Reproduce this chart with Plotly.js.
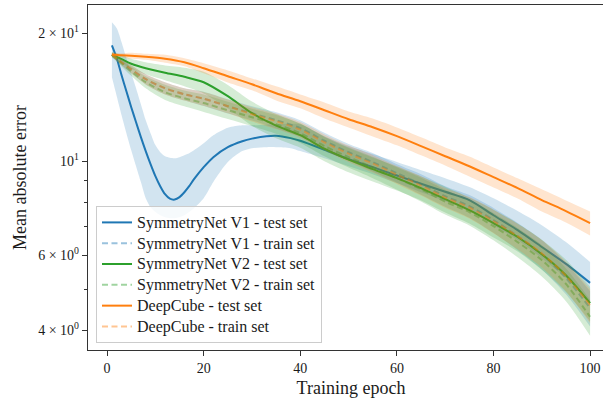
<!DOCTYPE html>
<html>
<head>
<meta charset="utf-8">
<script src="https://cdn.plot.ly/plotly-3.0.1.min.js"></script>
<style>
  html, body { margin: 0; padding: 0; overflow: hidden; background: #ffffff; }
  #chart { width: 614px; height: 400px; }
</style>
</head>
<body>
<div id="chart"></div>
<script>
// Training epochs at which the curves are sampled
const epochsV1Test = [1,2,3,4,5,6,7,8,9,10,11,12,13,14,15,16,17,18,20,22,25,28,30,33,35,38,40,45,50,55,60,65,70,75,80,85,90,95,100];
const epochs = [1,3,5,8,12,16,20,25,30,35,40,45,50,55,60,65,70,75,80,85,90,95,100];

// SymmetryNet V1 - test set (mean with lower / upper envelope)
const v1TestMean  = [18.74,17.47,15.93,14.61,13.40,12.35,11.39,10.56,9.84,9.22,8.73,8.36,8.16,8.12,8.23,8.45,8.73,9.07,9.68,10.22,10.79,11.14,11.30,11.45,11.48,11.33,11.17,10.64,10.11,9.68,9.25,8.85,8.47,8.10,7.46,6.88,6.28,5.73,5.17];
const v1TestUpper = [21.23,20.55,19.05,17.47,16.10,14.85,13.62,12.49,11.64,10.91,10.50,10.27,10.19,10.16,10.22,10.33,10.44,10.61,11.02,11.51,11.99,12.15,12.15,12.19,12.22,12.25,12.22,11.45,10.85,10.39,9.95,9.52,9.12,8.69,8.18,7.63,7.07,6.45,5.79];
const v1TestLower = [15.76,14.22,12.83,11.64,10.61,9.73,8.93,8.18,7.79,7.59,7.46,7.38,7.34,7.34,7.38,7.46,7.59,7.75,8.18,8.93,9.95,10.56,10.73,10.79,10.79,10.73,10.56,10.16,9.73,9.32,8.88,8.45,8.05,7.67,7.07,6.52,5.91,5.31,4.66];

// SymmetryNet V1 - train set
const v1TrainMean = [17.80,17.09,16.46,15.59,14.85,14.37,14.03,13.47,12.97,12.49,11.96,11.17,10.50,9.95,9.37,8.83,8.27,7.84,7.27,6.66,6.04,5.31,4.51];
const v1TrainStd  = [0.19,0.28,0.36,0.43,0.49,0.47,0.54,0.52,0.50,0.55,0.53,0.49,0.47,0.50,0.47,0.49,0.46,0.48,0.49,0.49,0.48,0.45,0.43];

// SymmetryNet V2 - test set
const v2TestMean = [17.80,17.38,16.96,16.55,16.15,15.80,15.34,14.22,12.97,12.12,11.51,10.70,10.08,9.58,9.12,8.64,8.14,7.67,7.15,6.63,6.04,5.39,4.63];
const v2TestStd  = [0.29,0.38,0.46,0.54,0.65,0.80,0.90,0.90,0.85,0.79,0.75,0.70,0.66,0.62,0.59,0.56,0.57,0.54,0.54,0.50,0.49,0.47,0.43];

// SymmetryNet V2 - train set
const v2TrainMean = [17.80,17.01,16.28,15.34,14.53,14.06,13.70,13.18,12.69,12.22,11.64,10.85,10.22,9.68,9.12,8.59,8.03,7.59,7.03,6.45,5.85,5.14,4.30];
const v2TrainStd  = [0.20,0.30,0.40,0.50,0.60,0.60,0.65,0.62,0.60,0.62,0.60,0.58,0.56,0.56,0.55,0.55,0.54,0.53,0.52,0.51,0.50,0.46,0.42];

// DeepCube - test set
const dcTestMean = [17.82,17.75,17.71,17.61,17.42,17.09,16.55,15.84,15.17,14.45,13.84,13.18,12.55,12.02,11.45,10.85,10.27,9.73,9.17,8.64,8.10,7.63,7.15];
const dcTestStd  = [0.19,0.19,0.29,0.29,0.375,0.37,0.45,0.515,0.49,0.55,0.52,0.57,0.545,0.585,0.555,0.53,0.50,0.525,0.495,0.47,0.485,0.455,0.465];

// DeepCube - train set
const dcTrainMean = [17.80,17.09,16.46,15.59,14.85,14.37,14.03,13.47,12.90,12.42,11.86,11.08,10.42,9.87,9.29,8.76,8.21,7.78,7.23,6.66,6.07,5.37,4.58];
const dcTrainStd  = [0.19,0.28,0.36,0.43,0.49,0.47,0.52,0.50,0.50,0.52,0.50,0.48,0.46,0.47,0.45,0.46,0.44,0.45,0.46,0.46,0.45,0.43,0.42];

// Axis tick labels
const xTicks = [0, 20, 40, 60, 80, 100];
const yTickVals = [4, 6, 10, 20];
const yTickText = ['4 × 10<sup>0</sup>', '6 × 10<sup>0</sup>', '10<sup>1</sup>', '2 × 10<sup>1</sup>'];
const yMinorVals = [5, 7, 8, 9];

const FONT = 'Liberation Serif, Times New Roman, serif';
const TEXT = '#1a1a1a';
const BLUE = [31, 119, 180], ORANGE = [255, 127, 14], GREEN = [44, 160, 44];
const rgba = (c, a) => `rgba(${c[0]},${c[1]},${c[2]},${a})`;

const addStd = (m, s, sign) => m.map((v, i) => v + sign * s[i]);

// legend labels are set a little larger than the row pitch of the legend
const legendLabel = (t) => `<span style="font-size:16px">${t}</span>`;

// shaded band between lo and hi, then the line on top
function series(name, x, mean, lo, hi, color, train) {
  const shape = { shape: 'spline', smoothing: 0.8 };
  return [
    { x: x, y: lo, mode: 'lines', line: Object.assign({ width: 0, color: 'rgba(0,0,0,0)' }, shape),
      showlegend: false, hoverinfo: 'skip' },
    { x: x, y: hi, mode: 'lines', line: Object.assign({ width: 0, color: 'rgba(0,0,0,0)' }, shape),
      fill: 'tonexty', fillcolor: rgba(color, 0.2), showlegend: false, hoverinfo: 'skip' },
    { x: x, y: mean, mode: 'lines', name: legendLabel(name),
      line: Object.assign({ width: 2, color: train ? rgba(color, 0.45) : rgba(color, 1),
                            dash: train ? '6px,3.5px' : 'solid' }, shape) }
  ];
}

const traces = [].concat(
  series('SymmetryNet V1 - test set', epochsV1Test, v1TestMean, v1TestLower, v1TestUpper, BLUE, false),
  series('SymmetryNet V1 - train set', epochs, v1TrainMean, addStd(v1TrainMean, v1TrainStd, -1), addStd(v1TrainMean, v1TrainStd, 1), BLUE, true),
  series('SymmetryNet V2 - test set', epochs, v2TestMean, addStd(v2TestMean, v2TestStd, -1), addStd(v2TestMean, v2TestStd, 1), GREEN, false),
  series('SymmetryNet V2 - train set', epochs, v2TrainMean, addStd(v2TrainMean, v2TrainStd, -1), addStd(v2TrainMean, v2TrainStd, 1), GREEN, true),
  series('DeepCube - test set', epochs, dcTestMean, addStd(dcTestMean, dcTestStd, -1), addStd(dcTestMean, dcTestStd, 1), ORANGE, false),
  series('DeepCube - train set', epochs, dcTrainMean, addStd(dcTrainMean, dcTrainStd, -1), addStd(dcTrainMean, dcTrainStd, 1), ORANGE, true)
);

const axisCommon = {
  showline: true, linecolor: '#333333', linewidth: 1.2, mirror: true,
  showgrid: false, zeroline: false,
  ticks: 'outside', ticklen: 5, tickwidth: 1, tickcolor: '#333333',
  tickfont: { family: FONT, size: 14, color: TEXT }
};

const layout = {
  width: 614, height: 400,
  margin: { l: 88, r: 0, t: 5, b: 50 },
  paper_bgcolor: '#ffffff', plot_bgcolor: '#ffffff',
  showlegend: true,
  xaxis: Object.assign({}, axisCommon, {
    range: [-3.95, 104.95],
    tickmode: 'array', tickvals: xTicks,
    title: { text: 'Training epoch', font: { family: FONT, size: 18, color: TEXT }, standoff: 6 }
  }),
  yaxis: Object.assign({}, axisCommon, {
    type: 'log', range: [0.5555, 1.3676],
    tickmode: 'array', tickvals: yTickVals, ticktext: yTickText,
    minor: { tickmode: 'array', tickvals: yMinorVals, ticks: 'outside', ticklen: 3, tickcolor: '#333333', showgrid: false },
    title: { text: 'Mean absolute error', font: { family: FONT, size: 18, color: TEXT }, standoff: 6 }
  }),
  legend: {
    x: 0.0152, y: 0.0203, xanchor: 'left', yanchor: 'bottom',
    traceorder: 'normal',
    bgcolor: 'rgba(255,255,255,0.8)', bordercolor: '#cccccc', borderwidth: 1,
    font: { family: FONT, size: 13.7, color: TEXT },
    tracegroupgap: 0, itemwidth: 30
  }
};

Plotly.newPlot('chart', traces, layout, { staticPlot: true, displayModeBar: false });
</script>
</body>
</html>
